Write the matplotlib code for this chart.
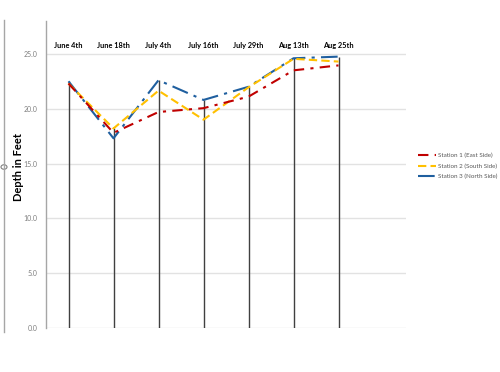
import matplotlib
matplotlib.use("Agg")
import matplotlib.pyplot as plt
from matplotlib.lines import Line2D
from matplotlib.patches import Circle

plt.rcParams['font.family'] = ['Lato', 'DejaVu Sans']

dates = ["June 4th", "June 18th", "July 4th", "July 16th", "July 29th", "Aug 13th", "Aug 25th"]
station1 = [22.3, 17.8, 19.7, 20.05, 21.1, 23.5, 23.95]
station2 = [22.3, 18.2, 21.65, 19.0, 21.95, 24.55, 24.3]
station3 = [22.5, 17.3, 22.6, 20.8, 22.0, 24.6, 24.75]
labels = ["Station 1 (East Side)", "Station 2 (South Side)", "Station 3 (North Side)"]
yticks = [0, 5, 10, 15, 20, 25]

W, H = 500, 372
fig = plt.figure(figsize=(W / 100, H / 100), dpi=100)
ax = fig.add_axes([46 / W, (H - 328) / H, 360 / W, (328 - 21) / H])

x = list(range(len(dates)))
ax.set_xlim(-0.5, 7.5)
ax.set_ylim(0, 28.0)

for v in yticks:
    ax.axhline(v, color="#e2e2e2", lw=1.0, zorder=0)

tops = [max(a, b, c) for a, b, c in zip(station1, station2, station3)]
ax.vlines(x, 0, tops, color="#404040", lw=1.0, zorder=1)

c1, c2, c3 = "#c00000", "#ffc000", "#1f5f9f"
ax.plot(x, station3, color=c3, lw=1.5, dashes=(8, 3, 1.5, 3), zorder=3)
ax.plot(x, station2, color=c2, lw=1.5, dashes=(4, 2), zorder=3)
ax.plot(x, station1, color=c1, lw=1.5, dashes=(5, 3, 1.5, 3), zorder=4)

for xi, d in zip(x, dates):
    ax.text(xi, 25.45, d, ha="center", va="bottom", fontsize=5.3, fontweight="bold", color="black")

ax.set_yticks(yticks)
ax.set_yticklabels([f"{v:.1f}" for v in yticks], fontsize=5, color="#7f7f7f")
ax.tick_params(axis="y", length=0, pad=6)
ax.set_xticks([])
for s in ["top", "right", "bottom"]:
    ax.spines[s].set_visible(False)
ax.spines["left"].set_color("#a6a6a6")
ax.spines["left"].set_linewidth(1.0)

fig.text(19 / W, 1 - 167 / H, "Depth in Feet", rotation=90, ha="center", va="center",
         fontsize=8, fontweight="bold")

handles = [
    Line2D([], [], color=c1, lw=1.5, dashes=(5, 3, 1.5, 3)),
    Line2D([], [], color=c2, lw=1.5, dashes=(4, 2)),
    Line2D([], [], color=c3, lw=1.5, dashes=(8, 3, 1.5, 3)),
]
fig.legend(handles, labels, loc="center left", bbox_to_anchor=(412 / W, 1 - 166 / H),
           frameon=False, fontsize=4.5, handlelength=2.9, handletextpad=0.3,
           labelspacing=0.8, labelcolor="#595959")

# slide edge decoration
fig.add_artist(Line2D([4 / W, 4 / W], [1 - 20 / H, 1 - 332 / H], color="#a6a6a6", lw=1.0))
fig.add_artist(Circle((4 / W, 1 - 167 / H), 0.006, transform=fig.transFigure,
                      facecolor="white", edgecolor="#808080", lw=0.8))

fig.savefig("out.png", dpi=100)
